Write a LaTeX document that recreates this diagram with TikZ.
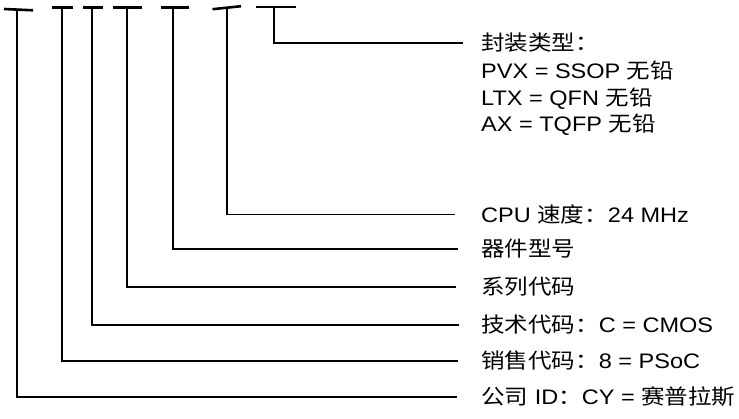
\documentclass[tikz,border=0pt]{standalone}
\usepackage{fontspec}
\setmainfont{Liberation Sans}
\newfontfamily\cjk{Noto Sans CJK SC}
\newcommand{\wlab}[1]{\scalebox{1.12}[1]{#1}}
\tikzset{
  lbl/.style={inner sep=0pt, anchor=base west, font=\fontsize{21}{25}\selectfont},
  conn/.style={line width=1.5pt},
  teebar/.style={line width=2.6pt}
}
\begin{document}
\begin{tikzpicture}[x=1pt,y=-1pt]
\path[use as bounding box] (0,0) rectangle (739,418);
% tee tops
\coordinate (t1) at (17,9.6);
\coordinate (t2) at (62,7.3);
\coordinate (t3) at (92,7.3);
\coordinate (t4) at (127,7.3);
\coordinate (t5) at (173,7.3);
\coordinate (t6) at (227,7.6);
\coordinate (t7) at (274,7);
% tee bars
\draw[teebar] (4,9) -- (33,10.3);
\draw[teebar] (52,7.3) -- (72.5,7.3);
\draw[teebar] (83,7.3) -- (102.5,7.3);
\draw[teebar] (113,7.3) -- (142,7.3);
\draw[teebar] (161,7.3) -- (189,7.3);
\draw[teebar] (212.5,9.2) -- (241,6.2);
\draw[teebar] (256,7) -- (296,7);
% labels
\node[lbl] (l7)  at (481,50.5)  {\wlab{{\cjk 封装类型：}}};
\node[lbl] (l7b) at (481,78)    {\wlab{PVX = SSOP {\cjk 无铅}}};
\node[lbl] (l7c) at (481,105)   {\wlab{LTX = QFN {\cjk 无铅}}};
\node[lbl] (l7d) at (481,131.5) {\wlab{AX = TQFP {\cjk 无铅}}};
\node[lbl] (l6)  at (481,222.2) {\wlab{CPU {\cjk 速度：}24 MHz}};
\node[lbl] (l5)  at (481,256.5) {\wlab{{\cjk 器件型号}}};
\node[lbl] (l4)  at (481,294.5) {\wlab{{\cjk 系列代码}}};
\node[lbl] (l3)  at (481,332.5) {\wlab{{\cjk 技术代码：}C = CMOS}};
\node[lbl] (l2)  at (481,368.5) {\wlab{{\cjk 销售代码：}8 = PSoC}};
\node[lbl] (l1)  at (481,404.5) {\wlab{{\cjk 公司} ID{\cjk ：}CY = {\cjk 赛普拉斯}}};
% connectors
\draw[conn] (t7) |- ([shift={(-18,-7.5)}]l7.base west);
\draw[conn] (t6) |- ([shift={(-26,-7.5)}]l6.base west);
\draw[conn] (t5) |- ([shift={(-23,-7.5)}]l5.base west);
\draw[conn] (t4) |- ([shift={(-25,-7.5)}]l4.base west);
\draw[conn] (t3) |- ([shift={(-22,-7.5)}]l3.base west);
\draw[conn] (t2) |- ([shift={(-23,-7.5)}]l2.base west);
\draw[conn] (t1) |- ([shift={(-24,-7.5)}]l1.base west);
\end{tikzpicture}
\end{document}
